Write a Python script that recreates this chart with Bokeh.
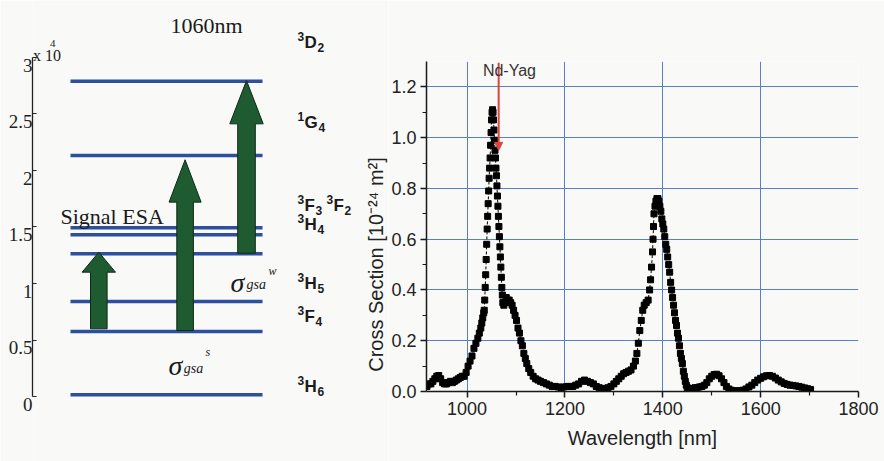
import math
from bokeh.plotting import figure
from bokeh.models import Range1d, FixedTicker, Label, Arrow, NormalHead, NumeralTickFormatter, LinearAxis
from bokeh.layouts import row
from bokeh.embed import file_html
from bokeh.resources import INLINE
from bokeh.core.properties import value

# ---------------- data ----------------
# Energy level diagram (cm^-1)
level_energy = [150, 5750, 8400, 12630, 14310, 14930, 21330, 27900]
level_tick_values = [0, 5000, 10000, 15000, 20000, 25000, 30000]
level_tick_labels = ["0", "0.5", "1", "1.5", "2", "2.5", "3"]
# term symbols: multiplicity (superscript), letter, J (subscript)
term_mult = ["3", "3", "3", "3", "3", "3", "1", "3"]
term_letter = ["H", "F", "H", "H", "F", "F", "G", "D"]
term_j = ["6", "4", "5", "4", "3", "2", "4", "2"]
term_label_y = [900, 7080, 10000, 15220, 16900, 16900, 24250, 31330]
term_label_x = [265, 265, 265, 265, 265, 294, 265, 265]

# Transitions (block arrows): start / end energy
arrow_start = [5990, 5840, 12680]
arrow_end = [12770, 20950, 27960]

# Absorption cross-section spectrum
wavelength = [
    918, 922, 926, 930, 934, 938, 942, 946, 950, 954, 958, 962, 966, 970, 974, 978, 982, 986, 990, 994, 998,
    1002, 1006, 1010, 1014, 1018, 1022, 1025, 1028, 1030, 1032, 1034, 1035, 1036, 1037, 1038, 1039, 1040,
    1041, 1042, 1043, 1044, 1045, 1046, 1047, 1048, 1049, 1050, 1051, 1052, 1053, 1054, 1055, 1056, 1057,
    1058, 1059, 1060, 1061, 1062, 1063, 1064, 1065, 1066, 1067, 1068, 1069, 1070, 1071, 1072, 1073, 1075,
    1077, 1080, 1083, 1086, 1089, 1092, 1095, 1098, 1101, 1104, 1107, 1110, 1113, 1116, 1119, 1122, 1126,
    1130, 1135, 1140, 1145, 1150, 1156, 1162, 1168, 1174, 1180, 1186, 1192, 1198, 1204, 1210, 1216, 1222,
    1228, 1234, 1240, 1246, 1252, 1258, 1264, 1270, 1276, 1282, 1288, 1294, 1300, 1305, 1310, 1315, 1320,
    1325, 1330, 1335, 1340, 1344, 1347, 1350, 1353, 1356, 1359, 1362, 1366, 1370, 1373, 1375, 1377, 1379,
    1380, 1381, 1382, 1384, 1386, 1388, 1390, 1392, 1394, 1396, 1398, 1400, 1402, 1404, 1406, 1408, 1410,
    1412, 1414, 1416, 1418, 1420, 1422, 1424, 1426, 1428, 1430, 1432, 1434, 1436, 1438, 1440, 1442, 1444,
    1446, 1448, 1450, 1454, 1458, 1462, 1466, 1470, 1475, 1480, 1485, 1490, 1495, 1500, 1505, 1510, 1515,
    1520, 1525, 1530, 1535, 1540, 1546, 1552, 1558, 1564, 1570, 1576, 1582, 1588, 1594, 1600, 1606, 1612,
    1618, 1624, 1630, 1636, 1642, 1648, 1654, 1660, 1666, 1672, 1678, 1684, 1690, 1696, 1702,
]
cross_section = [
    0.02, 0.03, 0.03, 0.04, 0.05, 0.06, 0.063, 0.05, 0.035, 0.03, 0.03, 0.035, 0.04, 0.035, 0.04, 0.045,
    0.05, 0.055, 0.06, 0.06, 0.075,
    0.10, 0.12, 0.14, 0.17, 0.19, 0.21, 0.23, 0.25, 0.27, 0.29, 0.31, 0.32, 0.36, 0.41, 0.46, 0.52, 0.58,
    0.64, 0.69, 0.74, 0.79, 0.84, 0.88, 0.92, 0.97, 1.02, 1.07, 1.10, 1.11, 1.10, 1.07, 1.03, 0.99, 0.95,
    0.92, 0.88, 0.85, 0.81, 0.77, 0.73, 0.69, 0.65, 0.61, 0.57, 0.53, 0.49, 0.45, 0.41, 0.38, 0.35, 0.34,
    0.35, 0.37, 0.36, 0.36, 0.35, 0.34, 0.32, 0.30, 0.28, 0.25, 0.23, 0.20, 0.18, 0.15, 0.13, 0.11, 0.09,
    0.075, 0.06, 0.05, 0.045, 0.04, 0.035, 0.03, 0.025, 0.02, 0.02, 0.018, 0.015, 0.018, 0.02, 0.02, 0.02, 0.025,
    0.03, 0.04, 0.045, 0.04, 0.035, 0.03, 0.02, 0.015, 0.012, 0.012, 0.015, 0.02, 0.03, 0.04, 0.05, 0.06, 0.07,
    0.075, 0.08, 0.085, 0.10, 0.12, 0.15, 0.19, 0.24, 0.28, 0.32, 0.34, 0.35, 0.36, 0.40, 0.44, 0.49, 0.55,
    0.60, 0.65, 0.70, 0.73, 0.75, 0.76, 0.76, 0.75, 0.73, 0.71, 0.68, 0.66, 0.64, 0.61, 0.58, 0.56, 0.53,
    0.50, 0.47, 0.43, 0.40, 0.37, 0.34, 0.31, 0.28, 0.26, 0.23, 0.21, 0.18, 0.15, 0.13, 0.11, 0.08, 0.06,
    0.04, 0.025, 0.015, 0.012, 0.01, 0.012, 0.015, 0.015, 0.018, 0.02, 0.025, 0.035, 0.05, 0.06, 0.067, 0.068, 0.062,
    0.05, 0.035, 0.02, 0.01, 0.005, 0.003, 0.002, 0.003, 0.005, 0.01, 0.018, 0.025, 0.035, 0.045, 0.052, 0.058, 0.062,
    0.063, 0.06, 0.053, 0.045, 0.038, 0.032, 0.028, 0.025, 0.024, 0.022, 0.02, 0.017, 0.014, 0.011, 0.008,
]
laser_wavelength = 1064.5
x_ticks = [1000, 1200, 1400, 1600, 1800]
x_minor = [1100, 1300, 1500, 1700]
y_ticks = [0.0, 0.2, 0.4, 0.6, 0.8, 1.0, 1.2]
y_minor = [0.1, 0.3, 0.5, 0.7, 0.9, 1.1]

# ---------------- style ----------------
BG = "#f9f9f8"
SERIF = "Liberation Serif"
SANS = "Liberation Sans"
LEVEL_BLUE = "#2d4f9e"
GREEN = "#1f5b31"
GRID_BLUE = "#5a7fc8"
RED = "#d9453f"
INK = "#1a1a1a"

# ---------------- left: energy levels ----------------
LW = 388
lp = figure(width=LW, height=461, x_range=Range1d(0, LW - 32), y_range=Range1d(-5752, 35044),
            x_axis_location=None, output_backend="svg", toolbar_location=None,
            min_border_left=32, min_border_right=0, min_border_top=0, min_border_bottom=0)
lp.frame_align = False
lp.grid.visible = False
lp.outline_line_color = None
lp.background_fill_color = BG
lp.border_fill_color = BG
ax = lp.yaxis[0]
ax.ticker = FixedTicker(ticks=level_tick_values)
ax.major_label_overrides = {v: "" for v in level_tick_values}
ax.major_label_text_font_size = "1px"
ax.major_label_standoff = 0
ax.bounds = (0, 30000)
ax.major_tick_in = 4
ax.major_tick_out = 0
ax.minor_tick_in = 0
ax.minor_tick_out = 0
ax.axis_line_color = "#222222"
ax.axis_line_width = 1.3
ax.major_tick_line_color = "#222222"

# tick labels of the scanned figure sit slightly below their ticks
lp.extra_y_ranges = {"labels": Range1d(-5752 + 700, 35044 + 700)}
ax2 = LinearAxis(y_range_name="labels", ticker=FixedTicker(ticks=level_tick_values),
                 major_label_overrides={v: s for v, s in zip(level_tick_values, level_tick_labels)},
                 axis_line_color=None, major_tick_line_color=None, minor_tick_line_color=None,
                 major_tick_in=0, major_tick_out=0, minor_tick_in=0, minor_tick_out=0,
                 major_label_standoff=0, major_label_text_font=SERIF,
                 major_label_text_font_size="19px", major_label_text_color="#222222")
lp.add_layout(ax2, "left")

lp.segment(x0=38, x1=230, y0=level_energy, y1=level_energy, line_color=LEVEL_BLUE, line_width=3.5)

arrow_cx = [66.3, 152.6, 214.0]
shaft_half = [8.3, 8.3, 8.8]
head_half = [16.7, 16.0, 16.7]
head_len = [1770, 3750, 3830]
xs, ys = [], []
for cx, sw, hw, hl, s, e in zip(arrow_cx, shaft_half, head_half, head_len, arrow_start, arrow_end):
    xs.append([cx - sw, cx + sw, cx + sw, cx + hw, cx, cx - hw, cx - sw])
    ys.append([s, s, e - hl, e - hl, e, e - hl, e - hl])
lp.patches(xs, ys, fill_color=GREEN, line_color="#0f2a17", line_width=1)

# term symbols built from three pieces
letter_w = {"D": 12.5, "G": 13.4, "H": 12.5, "F": 10.6}
letter_x = [x + 7 for x in term_label_x]
sub_x = [x + 7 + letter_w[l] + 0.5 for x, l in zip(term_label_x, term_letter)]
lp.text(x=term_label_x, y=term_label_y, text=term_mult, text_font=value(SANS), text_font_style="bold",
        text_font_size="12px", text_color=INK, text_baseline="middle", y_offset=-6)
lp.text(x=letter_x, y=term_label_y, text=term_letter, text_font=value(SANS), text_font_style="bold",
        text_font_size="17px", text_color=INK, text_baseline="middle")
lp.text(x=sub_x, y=term_label_y, text=term_j, text_font=value(SANS), text_font_style="bold",
        text_font_size="12px", text_color=INK, text_baseline="middle", y_offset=5)


def lab(plot, x, y, text, font, size, style="normal", align="left", color=INK):
    plot.add_layout(Label(x=x, y=y, text=text, text_font=font, text_font_size=size,
                          text_font_style=style, text_align=align, text_baseline="alphabetic",
                          text_color=color))


lab(lp, 174, 32832, "1060nm", SERIF, "22px", align="center")
lab(lp, 28, 15929, "Signal ESA", SERIF, "22px")
lab(lp, 0.5, 30177, "x 10", SERIF, "16px")
lab(lp, 17.5, 31239, "4", SERIF, "11px")
# sigma_gsa^s
lab(lp, 136, 2743, "σ", SERIF, "28px", style="italic")
lab(lp, 151.3, 2478, "gsa", SERIF, "14px", style="italic")
lab(lp, 173, 3894, "s", SERIF, "12px", style="italic")
# sigma_gsa^w
lab(lp, 198, 10088, "σ", SERIF, "28px", style="italic")
lab(lp, 214, 9912, "gsa", SERIF, "14px", style="italic")
lab(lp, 236, 11150, "w", SERIF, "12px", style="italic")

# y-axis title of the spectrum (placed in the gap between panels)
lp.text(x=[343], y=[11681], text=["Cross Section [10⁻²⁴ m²]"], angle=math.pi / 2,
        text_font=value(SANS), text_font_size="20px", text_color="#222222",
        text_align="center", text_baseline="middle")

# ---------------- right: cross section ----------------
rp = figure(width=884 - LW, height=461, x_range=Range1d(917, 1800), y_range=Range1d(0, 1.3),
            output_backend="svg", toolbar_location=None,
            min_border_left=424 - LW, min_border_right=26, min_border_top=61, min_border_bottom=70)
rp.frame_align = False
rp.outline_line_color = None
rp.background_fill_color = BG
rp.border_fill_color = BG
xt = FixedTicker(ticks=x_ticks, minor_ticks=x_minor)
yt = FixedTicker(ticks=y_ticks, minor_ticks=y_minor)
rp.xaxis.ticker = xt
rp.yaxis.ticker = yt
rp.xgrid.ticker = xt
rp.ygrid.ticker = yt
rp.yaxis.formatter = NumeralTickFormatter(format="0.0")
for g in (rp.xgrid, rp.ygrid):
    g.grid_line_color = GRID_BLUE
    g.grid_line_width = 1
for a in (rp.xaxis[0], rp.yaxis[0]):
    a.axis_line_color = INK
    a.axis_line_width = 1.5
    a.major_tick_line_color = INK
    a.minor_tick_line_color = INK
    a.major_tick_line_width = 1.5
    a.minor_tick_line_width = 1.2
    a.major_tick_out = 6
    a.major_tick_in = 0
    a.minor_tick_out = 4
    a.minor_tick_in = 0
    a.major_label_text_font = SANS
    a.major_label_text_font_size = "18px"
    a.major_label_text_color = "#222222"
    a.major_label_standoff = 4
rp.xaxis.axis_label = "Wavelength [nm]"
rp.xaxis.axis_label_text_font = SANS
rp.xaxis.axis_label_text_font_size = "20px"
rp.xaxis.axis_label_text_font_style = "normal"
rp.xaxis.axis_label_text_color = "#222222"
rp.xaxis.axis_label_standoff = 9

rp.line(wavelength, cross_section, line_color="black", line_width=1, line_dash="3 2")
rp.scatter(wavelength, cross_section, marker="square", size=6, fill_color="black",
           line_color="black", line_width=1)

rp.add_layout(Arrow(end=NormalHead(size=8, fill_color=RED, line_color=RED),
                    x_start=laser_wavelength, y_start=1.295, x_end=laser_wavelength, y_end=0.95,
                    line_color=RED, line_width=2))
lab(rp, 1086.5, 1.264, "Nd-Yag", SANS, "16px", align="center", color="#333333")

layout = row(lp, rp)
open("out.html", "w").write(file_html(layout, INLINE))
